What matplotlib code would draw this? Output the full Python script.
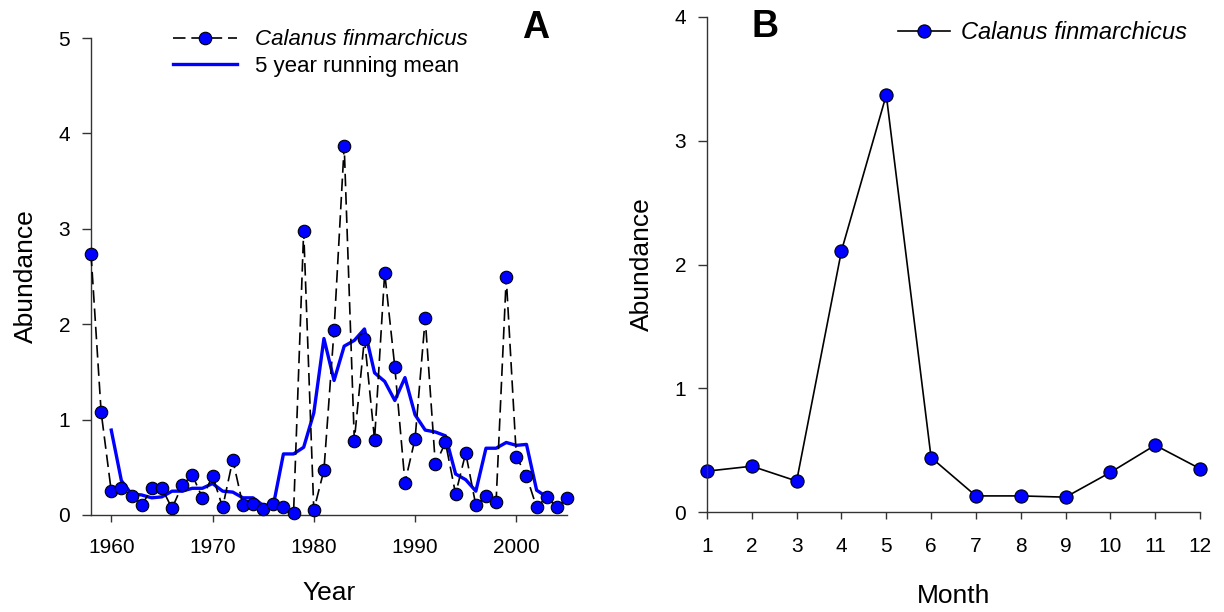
import matplotlib
matplotlib.use('Agg')
import matplotlib.pyplot as plt

plt.rcParams['font.family'] = ['Liberation Sans', 'DejaVu Sans']

# Panel A - annual abundance
years = list(range(1958, 2006))
abundance = [2.74, 1.08, 0.25, 0.28, 0.20, 0.10, 0.28, 0.28, 0.07, 0.31,
             0.42, 0.18, 0.41, 0.08, 0.58, 0.10, 0.12, 0.06, 0.12, 0.08,
             0.02, 2.98, 0.05, 0.47, 1.94, 3.87, 0.78, 1.85, 0.79, 2.54,
             1.55, 0.34, 0.80, 2.06, 0.53, 0.76, 0.22, 0.65, 0.10, 0.20,
             0.14, 2.49, 0.61, 0.41, 0.08, 0.19, 0.08, 0.18]

# 5 year running mean (as drawn)
mean_years = list(range(1960, 2004))
running_mean = [0.89, 0.36, 0.22, 0.21, 0.18, 0.19, 0.25, 0.25, 0.28, 0.28,
                0.33, 0.25, 0.24, 0.18, 0.18, 0.10, 0.10, 0.64, 0.64, 0.71,
                1.07, 1.85, 1.41, 1.77, 1.83, 1.95, 1.49, 1.40, 1.20, 1.44,
                1.05, 0.89, 0.87, 0.83, 0.43, 0.37, 0.25, 0.70, 0.70, 0.76,
                0.73, 0.74, 0.26, 0.19]

# Panel B - monthly abundance
months = list(range(1, 13))
monthly = [0.33, 0.37, 0.25, 2.11, 3.37, 0.44, 0.13, 0.13, 0.12, 0.32, 0.54, 0.35]

W, H = 1224, 612
fig = plt.figure(figsize=(12.24, 6.12), dpi=100)
axA = fig.add_axes([91 / W, 1 - 515 / H, (567 - 91) / W, (515 - 38) / H])
axB = fig.add_axes([707 / W, 1 - 512 / H, (1200 - 707) / W, (512 - 17) / H])

def style(ax, xpad):
    for s in ['top', 'right']:
        ax.spines[s].set_visible(False)
    for s in ['left', 'bottom']:
        ax.spines[s].set_linewidth(1.0)
        ax.spines[s].set_color('#333333')
    ax.tick_params(axis='y', direction='out', length=6.5, width=1.0,
                   color='#333333', labelsize=15, pad=8.5)
    ax.tick_params(axis='x', direction='out', length=5, width=1.0,
                   color='#333333', labelsize=15, pad=xpad)

# --- Panel A ---
axA.plot(mean_years, running_mean, color='#0000ff', lw=2.4, zorder=2,
         label='5 year running mean', clip_on=False)
axA.plot(years, abundance, color='black', lw=1.2, ls=(0, (7.5, 3.5)),
         marker='o', ms=9, mfc='#0000ff', mec='black', mew=0.8, zorder=3,
         label='Calanus finmarchicus', clip_on=False)
axA.set_xlim(1958, 2005)
axA.set_ylim(0, 5)
axA.set_xticks([1960, 1970, 1980, 1990, 2000])
axA.set_yticks([0, 1, 2, 3, 4, 5])
axA.set_xlabel('Year', fontsize=19, labelpad=17)
axA.set_ylabel('Abundance', fontsize=19, labelpad=15)
style(axA, 11.5)

handles, labels = axA.get_legend_handles_labels()
legA = axA.legend(handles[::-1], labels[::-1], loc='upper left',
                  bbox_to_anchor=(0.13, 1.06), frameon=False, fontsize=16,
                  handlelength=2.9, handletextpad=0.8, labelspacing=0.25,
                  numpoints=1)
legA.get_texts()[0].set_style('italic')
axA.text(0.935, 1.02, 'A', transform=axA.transAxes, fontsize=27,
         fontweight='bold', ha='center', va='center')

# --- Panel B ---
axB.plot(months, monthly, color='black', lw=1.2, marker='o', ms=9.5,
         mfc='#0000ff', mec='black', mew=0.8, clip_on=False,
         label='Calanus finmarchicus')
axB.set_xlim(1, 12)
axB.set_ylim(0, 4)
axB.set_xticks(months)
axB.set_yticks([0, 1, 2, 3, 4])
axB.set_xlabel('Month', fontsize=19, labelpad=20)
axB.set_ylabel('Abundance', fontsize=19, labelpad=15)
style(axB, 13)

legB = axB.legend(loc='upper left', bbox_to_anchor=(0.345, 1.035),
                  frameon=False, fontsize=17, handlelength=2.2,
                  handletextpad=0.45, numpoints=1)
legB.get_texts()[0].set_style('italic')
axB.text(0.118, 0.98, 'B', transform=axB.transAxes, fontsize=27,
         fontweight='bold', ha='center', va='center')

fig.savefig('out.png', dpi=100)
